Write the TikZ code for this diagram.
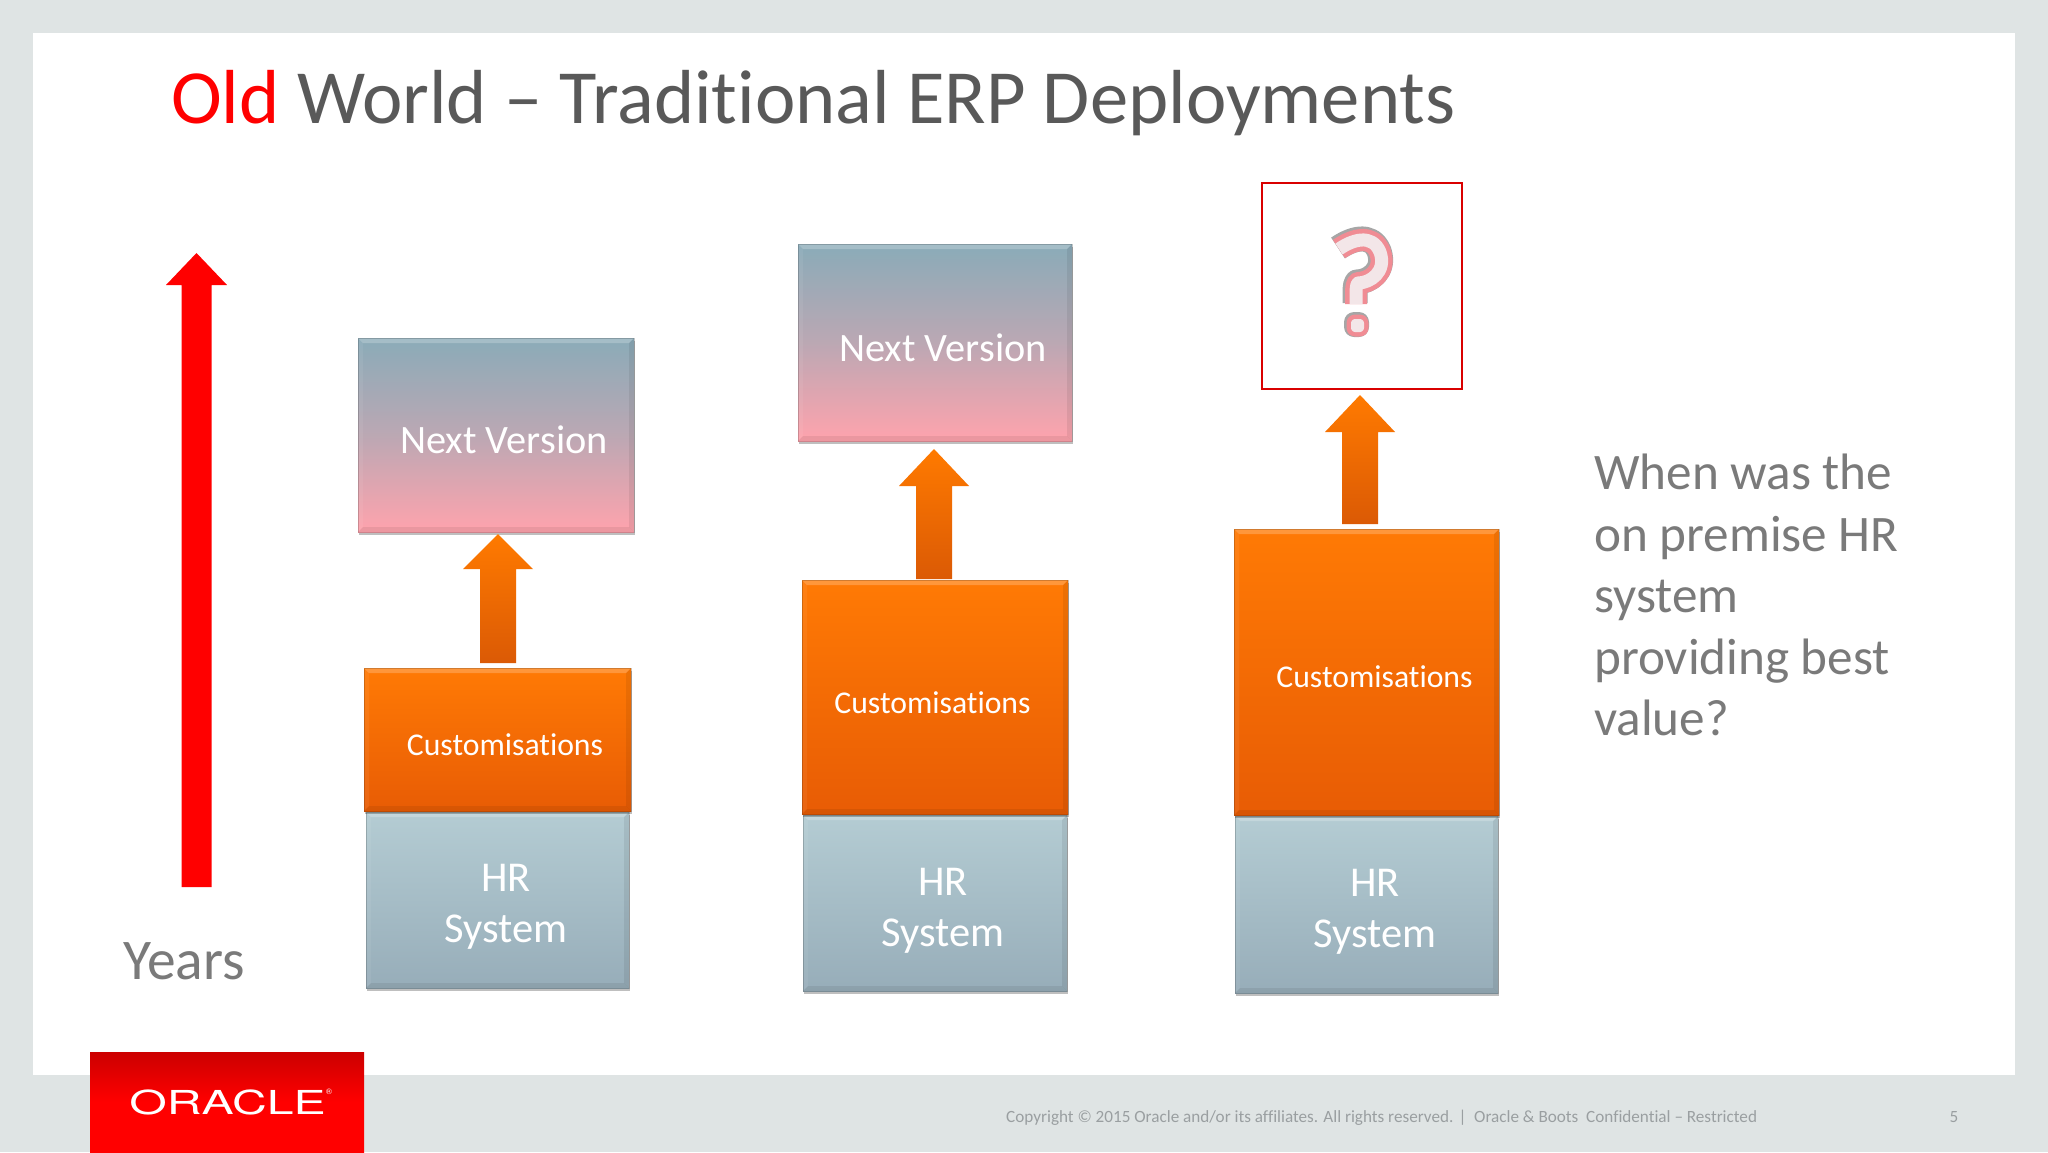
\documentclass[tikz,border=0pt]{standalone}
\usepackage{fontspec}
\setmainfont{Carlito}[Ligatures=NoCommon]
\newfontfamily\logofont{TeX Gyre Heros}
\usetikzlibrary{calc,shadows}
\definecolor{pagebg}{HTML}{DFE4E4}
\definecolor{titlegrey}{HTML}{595959}
\definecolor{sidegrey}{HTML}{7A7A7A}
\definecolor{footgrey}{HTML}{9A9FA1}
\definecolor{nvtop}{HTML}{8AABB8}
\definecolor{nvbot}{HTML}{FFA3AD}
\definecolor{cutop}{HTML}{FF7A05}
\definecolor{cubot}{HTML}{E85C05}
\definecolor{hrtop}{HTML}{B4CCD3}
\definecolor{hrbot}{HTML}{97ADB9}
\definecolor{artop}{HTML}{FF7A00}
\definecolor{arbot}{HTML}{DB5A05}
\definecolor{qpale}{HTML}{F3E6E8}
\definecolor{qpink}{HTML}{F08C94}
\tikzset{
  x=1pt,y=-1pt,
  softshadow/.style={drop shadow={shadow xshift=1pt,shadow yshift=-3pt,opacity=.25,fill=black}},
  nvbox/.style={softshadow,inner sep=0pt,outer sep=0pt,top color=nvtop,bottom color=nvbot,middle color=nvtop!58!nvbot},
  cubox/.style={softshadow,inner sep=0pt,outer sep=0pt,top color=cutop,bottom color=cubot},
  hrbox/.style={softshadow,inner sep=0pt,outer sep=0pt,top color=hrtop,bottom color=hrbot},
  boxlabel/.style={text=white,inner sep=0pt,anchor=base},
  nvlabel/.style={boxlabel,font=\fontsize{40.3}{46}\selectfont},
  culabel/.style={boxlabel,font=\fontsize{31.7}{36}\selectfont},
  hrlabel/.style={text=white,inner sep=0pt,align=center,font=\fontsize{42.5}{51}\selectfont},
}
% \bevel{node}{depth}
\newcommand{\bevel}[2]{%
  \fill[white,opacity=.22] (#1.north west) -- (#1.north east) -- ($(#1.north east)+(-#2,#2)$) -- ($(#1.north west)+(#2,#2)$) -- cycle;
  \fill[black,opacity=.07] (#1.north east) -- (#1.south east) -- ($(#1.south east)+(-#2,-#2)$) -- ($(#1.north east)+(-#2,#2)$) -- cycle;
  \fill[white,opacity=.06] (#1.north west) -- (#1.south west) -- ($(#1.south west)+(#2,-#2)$) -- ($(#1.north west)+(#2,#2)$) -- cycle;
  \fill[black,opacity=.07] (#1.south west) -- (#1.south east) -- ($(#1.south east)+(-#2,-#2)$) -- ($(#1.south west)+(#2,-#2)$) -- cycle;
  \draw[black,opacity=.18,line width=1pt] (#1.south west) rectangle (#1.north east);
}
% \stackbox{name}{style}{x1}{y1}{x2}{y2}
\newcommand{\stackbox}[6]{%
  \node[#2,minimum width=#5pt-#3pt,minimum height=#6pt-#4pt,anchor=north west] (#1) at (#3,#4) {};
  \bevel{#1}{5}
}
% \blockarrow{tail}{tip}{head half width}{head length}{shaft half width}{colours}
\newcommand{\blockarrow}[6]{%
  \shade[#6] (#2) -- ($(#2)+(#3,#4)$) -- ($(#2)+(#5,#4)$) -- ($(#1)+(#5,0)$) -- ($(#1)+(-#5,0)$) -- ($(#2)+(-#5,#4)$) -- ($(#2)+(-#3,#4)$) -- cycle;
}
\begin{document}
\begin{tikzpicture}
\useasboundingbox (0,0) rectangle (2048,1152);
\fill[pagebg] (0,0) rectangle (2048,1152);
\fill[white] (33,33) rectangle (2015,1075);

% title
\node[anchor=base west,inner sep=0pt,text=titlegrey,font=\fontsize{76.6}{84}\selectfont] (title) at (171,123)
  {\textcolor{red}{Old} World – Traditional ERP Deployments};

% years arrow
\coordinate (ytail) at (196.5,887);
\coordinate (ytip) at (196.5,253);
\fill[red] (ytip) -- ($(ytip)+(30.5,32)$) -- ($(ytip)+(15,32)$) -- ($(ytail)+(15,0)$) -- ($(ytail)+(-15,0)$) -- ($(ytip)+(-15,32)$) -- ($(ytip)+(-30.5,32)$) -- cycle;
\node[anchor=base west,inner sep=0pt,text=sidegrey,font=\fontsize{57.5}{66}\selectfont] (years) at (123,979) {Years};

% column 1
\stackbox{nv1}{nvbox}{358}{338}{634}{532}
\stackbox{hr1}{hrbox}{366}{812}{629}{988}
\stackbox{cu1}{cubox}{364}{668}{631}{811}
\node[nvlabel] (nv1t) at (504,453) {Next Version};
\node[culabel] (cu1t) at (505,755) {Customisations};
\node[hrlabel] (hr1t) at (506,907) {HR\\System};
\coordinate (a1tail) at (498,663);
\coordinate (a1tip) at (498,534);
\blockarrow{a1tail}{a1tip}{35}{35}{18}{top color=artop,bottom color=arbot}

% column 2
\stackbox{nv2}{nvbox}{798}{244}{1072}{441}
\stackbox{hr2}{hrbox}{803}{815}{1067}{991}
\stackbox{cu2}{cubox}{802}{580}{1068}{814}
\node[nvlabel] (nv2t) at (943,361) {Next Version};
\node[culabel] (cu2t) at (932.5,713) {Customisations};
\node[hrlabel] (hr2t) at (943,911) {HR\\System};
\coordinate (a2tail) at (934,579);
\coordinate (a2tip) at (934,449);
\blockarrow{a2tail}{a2tip}{35}{37}{18}{top color=artop,bottom color=arbot}

% column 3
\node[draw=red!85!black,line width=1.6pt,fill=white,minimum width=200pt,minimum height=206pt,anchor=north west,inner sep=0pt] (q3) at (1261,182) {};
\begin{scope}[line join=round]
  \foreach \w/\c/\o/\dx/\dy in {25/black/.35/-1/-1,22/qpink/1/0/0,13/qpale/1/0/0}{
    \draw[line width=\w pt,color=\c,opacity=\o,shift={(\dx,\dy)}] (1339,249) .. controls (1352,240) and (1372,233) .. (1380,252) .. controls (1387,272) and (1370,283) .. (1358,283) .. controls (1356,285) and (1356,288) .. (1356,304);
    \draw[line width=\w pt-9pt,color=\c,fill=\c,opacity=\o,shift={(\dx,\dy)},rounded corners=2pt] (1353,321) rectangle (1362,330);
  }
\end{scope}
\stackbox{hr3}{hrbox}{1235}{816}{1498}{993}
\stackbox{cu3}{cubox}{1234}{529}{1499}{815}
\node[culabel] (cu3t) at (1374.5,687) {Customisations};
\node[hrlabel] (hr3t) at (1375,912) {HR\\System};
\coordinate (a3tail) at (1360,524);
\coordinate (a3tip) at (1360,395);
\blockarrow{a3tail}{a3tip}{35}{37}{18}{top color=artop,bottom color=arbot}

% side text
\node[anchor=north west,inner sep=0pt,align=left,text=sidegrey,font=\fontsize{51.2}{61.5}\selectfont] (side) at (1594,454)
  {When was the\\on premise HR\\system\\providing best\\value?};

% logo
\shade[top color=red!80!black,bottom color=red,middle color=red] (90,1052) rectangle (364,1152);
\node[anchor=base west,inner sep=0pt,text=white,font=\logofont\fontsize{33}{36}\selectfont,xscale=1.46] (logo) at (129,1114) {ORACLE};
\node[anchor=center,inner sep=0pt,text=white,font=\logofont\fontsize{8}{9}\selectfont] (logor) at (329,1092) {®};

% footer
\node[anchor=base west,inner sep=0pt,text=footgrey,font=\fontsize{17.15}{20}\selectfont] (foot) at (1006,1122)
  {Copyright © 2015 Oracle and/or its affiliates. All rights reserved. |\ \ Oracle \& Boots\ \ Confidential – Restricted};
\node[anchor=base,inner sep=0pt,text=footgrey,font=\fontsize{17.15}{20}\selectfont] (pageno) at (1954,1122) {5};
\end{tikzpicture}
\end{document}
